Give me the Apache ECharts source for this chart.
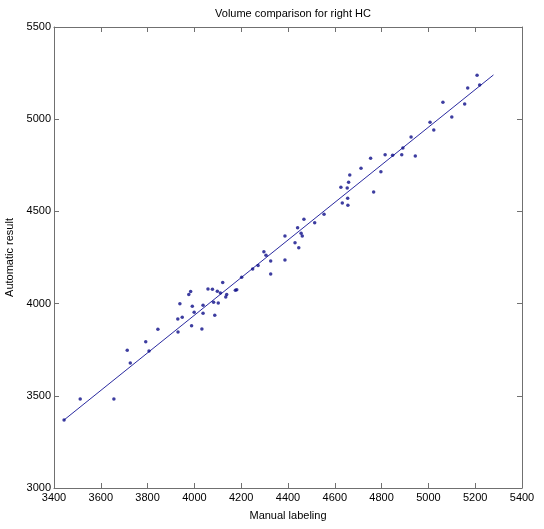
<!DOCTYPE html>
<html>
<head>
<meta charset="utf-8">
<script src="https://cdn.jsdelivr.net/npm/echarts@6/dist/echarts.min.js"></script>
<style>
html,body{margin:0;padding:0;background:#fff;}
#chart{width:544px;height:529px;}
</style>
</head>
<body>
<div id="chart"></div>
<script>
const titleText = 'Volume comparison for right HC';
const xName = 'Manual labeling';
const yName = 'Automatic result';

const manual = [3443,3512,3656,3713,3726,3792,3806,3844,3930,3929,3948,3938,3976,3984,3988,3991,3999,4032,4037,4037,
  4058,4077,4082,4087,4098,4102,4111,4121,4138,4134,4175,4181,4202,4249,4272,4297,4306,4326,4326,4387,
  4387,4430,4441,4456,4461,4446,4468,4514,4554,4626,4653,4659,4664,4632,4655,4656,4712,4753,4766,4797,
  4815,4847,4886,4891,4926,4944,5007,5023,5062,5100,5155,5168,5208,5219];
const automatic = [3369,3483,3483,3747,3678,3793,3743,3861,3846,3916,3926,3999,4050,4065,3880,3985,3953,3862,3991,3947,
  4079,4078,4007,3937,4067,4003,4057,4115,4050,4036,4072,4075,4143,4188,4206,4281,4262,4231,4160,4367,
  4236,4330,4412,4381,4367,4303,4457,4439,4484,4631,4627,4658,4697,4546,4571,4533,4734,4788,4605,4715,
  4807,4804,4807,4844,4903,4800,4983,4941,5092,5012,5082,5169,5238,5185];

const fitX = [3443, 5278];
const fitY = [3369, 5240];

const chart = echarts.init(document.getElementById('chart'), null, {renderer:'canvas'});
const font = 'Liberation Sans, Arial, sans-serif';
const axisColor = '#707070';
const plain = v => String(v);

const baseAxis = {
  type: 'value',
  axisLine: {show: true, onZero: false, lineStyle: {color: axisColor, width: 1}},
  axisTick: {show: true, inside: true, length: 5, lineStyle: {color: axisColor}},
  splitLine: {show: false}
};

chart.setOption({
  animation: false,
  backgroundColor: '#fff',
  title: {
    text: titleText,
    left: 288, top: 3, textAlign: 'center',
    textStyle: {fontFamily: font, fontSize: 11, fontWeight: 'normal', color: '#000'}
  },
  grid: {left: 54, right: 22, top: 27, bottom: 41, containLabel: false, outerBoundsMode: 'none'},
  xAxis: [
    Object.assign({}, baseAxis, {
      position: 'bottom', min: 3400, max: 5400, interval: 200,
      name: xName, nameLocation: 'middle', nameGap: 22,
      nameTextStyle: {fontFamily: font, fontSize: 11, color: '#000'},
      axisLabel: {fontFamily: font, fontSize: 11, color: '#000', margin: 4, formatter: plain}
    }),
    Object.assign({}, baseAxis, {
      position: 'top', min: 3400, max: 5400, interval: 200,
      axisLabel: {show: false}
    })
  ],
  yAxis: [
    Object.assign({}, baseAxis, {
      position: 'left', min: 3000, max: 5500, interval: 500,
      name: yName, nameLocation: 'middle', nameGap: 31,
      nameTextStyle: {fontFamily: font, fontSize: 11, color: '#000'},
      axisLabel: {fontFamily: font, fontSize: 11, color: '#000', margin: 3, formatter: plain}
    }),
    Object.assign({}, baseAxis, {
      position: 'right', min: 3000, max: 5500, interval: 500,
      axisLabel: {show: false}
    })
  ],
  series: [
    {
      type: 'line',
      data: fitX.map((x, i) => [x, fitY[i]]),
      showSymbol: false, symbol: 'none',
      lineStyle: {color: '#2a2aa0', width: 1},
      silent: true, z: 2
    },
    {
      type: 'scatter',
      data: manual.map((x, i) => [x, automatic[i]]),
      symbol: 'circle', symbolSize: 3.5,
      itemStyle: {color: '#0c0c88'},
      z: 3
    }
  ]
});
</script>
</body>
</html>
